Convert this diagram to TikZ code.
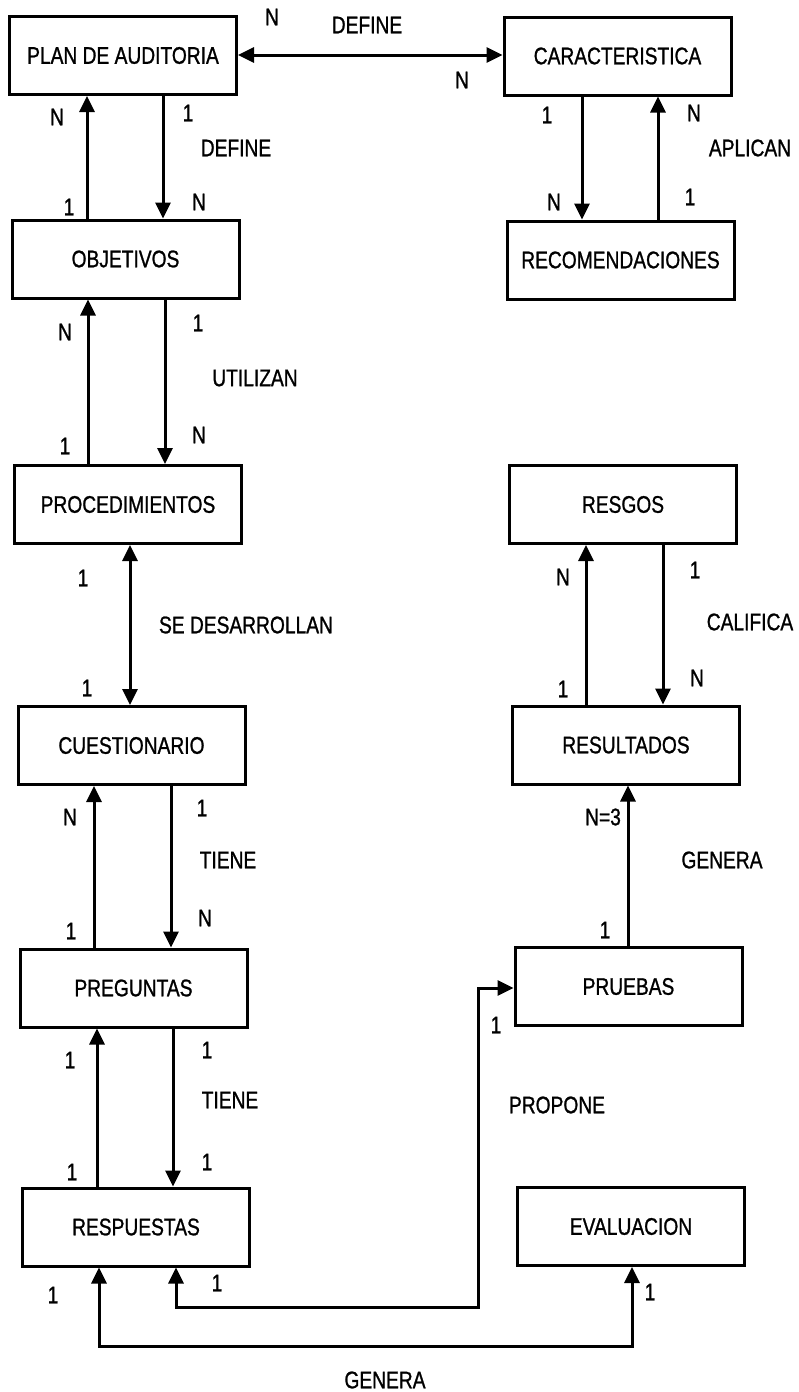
\documentclass[tikz,border=0pt]{standalone}
\usepackage{fontspec}
\setmainfont{Liberation Sans}[FakeStretch=0.8, FakeBold=1]
\usetikzlibrary{arrows.meta}
\begin{document}
\begin{tikzpicture}[x=1pt,y=-1pt,
  every node/.style={font=\fontsize{24}{28}\selectfont, inner sep=0pt},
  ent/.style={draw, line width=3pt, minimum width=227pt, minimum height=78pt},
  lbl/.style={},
  rel/.style={line width=3pt, -{Triangle[length=16pt,width=15pt]}},
  relboth/.style={line width=3pt, {Triangle[length=16pt,width=15pt]}-{Triangle[length=16pt,width=15pt]}}]
\useasboundingbox (0,0) rectangle (799,1392);

% entities
\node[ent] (plan) at (123,55.5) {PLAN DE AUDITORIA};
\node[ent] (carac) at (617.5,56) {CARACTERISTICA};
\node[ent] (obj) at (125.5,259) {OBJETIVOS};
\node[ent] (recom) at (620.5,260) {RECOMENDACIONES};
\node[ent] (proc) at (128,504.5) {PROCEDIMIENTOS};
\node[ent] (ries) at (623,504.5) {RESGOS};
\node[ent] (cues) at (131.5,745.5) {CUESTIONARIO};
\node[ent] (resu) at (626,745) {RESULTADOS};
\node[ent] (preg) at (133.5,988) {PREGUNTAS};
\node[ent] (prue) at (628.5,986.5) {PRUEBAS};
\node[ent] (resp) at (136,1227) {RESPUESTAS};
\node[ent] (eval) at (631,1226.5) {EVALUACION};

% relationships
\draw[relboth] (plan.east |- 0,55) -- (carac.west |- 0,55);
\draw[rel] (87,0 |- obj.north) -- (87,0 |- plan.south);
\draw[rel] (163,0 |- plan.south) -- (163,0 |- obj.north);
\draw[rel] (582,0 |- carac.south) -- (582,0 |- recom.north);
\draw[rel] (658,0 |- recom.north) -- (658,0 |- carac.south);
\draw[rel] (88,0 |- proc.north) -- (88,0 |- obj.south);
\draw[rel] (165,0 |- obj.south) -- (165,0 |- proc.north);
\draw[relboth] (130,0 |- proc.south) -- (130,0 |- cues.north);
\draw[rel] (586,0 |- resu.north) -- (586,0 |- ries.south);
\draw[rel] (663,0 |- ries.south) -- (663,0 |- resu.north);
\draw[rel] (94,0 |- preg.north) -- (94,0 |- cues.south);
\draw[rel] (171,0 |- cues.south) -- (171,0 |- preg.north);
\draw[rel] (628,0 |- prue.north) -- (628,0 |- resu.south);
\draw[rel] (97,0 |- resp.north) -- (97,0 |- preg.south);
\draw[rel] (173,0 |- preg.south) -- (173,0 |- resp.north);

\coordinate (propone) at (478,1307);
\coordinate (genera) at (632,1346);
\draw[relboth] (176,0 |- resp.south) |- (propone) |- (prue.west |- 0,988);
\draw[relboth] (99,0 |- resp.south) |- (genera) -- (eval.south -| genera);

% cardinalities and relationship names
\node[lbl] (t1) at (272,17) {N};
\node[lbl] (t2) at (367,25) {DEFINE};
\node[lbl] (t3) at (462,80) {N};

\node[lbl] (a1) at (57,117) {N};
\node[lbl] (a2) at (188,113) {1};
\node[lbl] (a3) at (236,148) {DEFINE};
\node[lbl] (a4) at (69,207) {1};
\node[lbl] (a5) at (199,202) {N};

\node[lbl] (b1) at (547,115) {1};
\node[lbl] (b2) at (694,113) {N};
\node[lbl] (b3) at (750,148) {APLICAN};
\node[lbl] (b4) at (554,202) {N};
\node[lbl] (b5) at (690,197) {1};

\node[lbl] (c1) at (65,332) {N};
\node[lbl] (c2) at (198,323) {1};
\node[lbl] (c3) at (255,378) {UTILIZAN};
\node[lbl] (c4) at (199,435) {N};
\node[lbl] (c5) at (65,446) {1};

\node[lbl] (d1) at (83,578) {1};
\node[lbl] (d2) at (246,625) {SE DESARROLLAN};
\node[lbl] (d3) at (87,688) {1};

\node[lbl] (e1) at (563,577) {N};
\node[lbl] (e2) at (695,570) {1};
\node[lbl] (e3) at (750,622) {CALIFICA};
\node[lbl] (e4) at (697,678) {N};
\node[lbl] (e5) at (563,689) {1};

\node[lbl] (f1) at (70,817) {N};
\node[lbl] (f2) at (202,808) {1};
\node[lbl] (f3) at (228,860) {TIENE};
\node[lbl] (f4) at (205,918) {N};
\node[lbl] (f5) at (71,931) {1};

\node[lbl] (g1) at (603,817) {N=3};
\node[lbl] (g2) at (722,860) {GENERA};
\node[lbl] (g3) at (605,930) {1};

\node[lbl] (h1) at (70,1060) {1};
\node[lbl] (h2) at (207,1050) {1};
\node[lbl] (h3) at (230,1100) {TIENE};
\node[lbl] (h4) at (72,1172) {1};
\node[lbl] (h5) at (207,1162) {1};

\node[lbl] (i1) at (496,1025) {1};
\node[lbl] (i2) at (557,1105) {PROPONE};

\node[lbl] (j1) at (53,1295) {1};
\node[lbl] (j2) at (217,1283) {1};
\node[lbl] (j3) at (650,1292) {1};
\node[lbl] (j4) at (385,1380) {GENERA};
\end{tikzpicture}
\end{document}
